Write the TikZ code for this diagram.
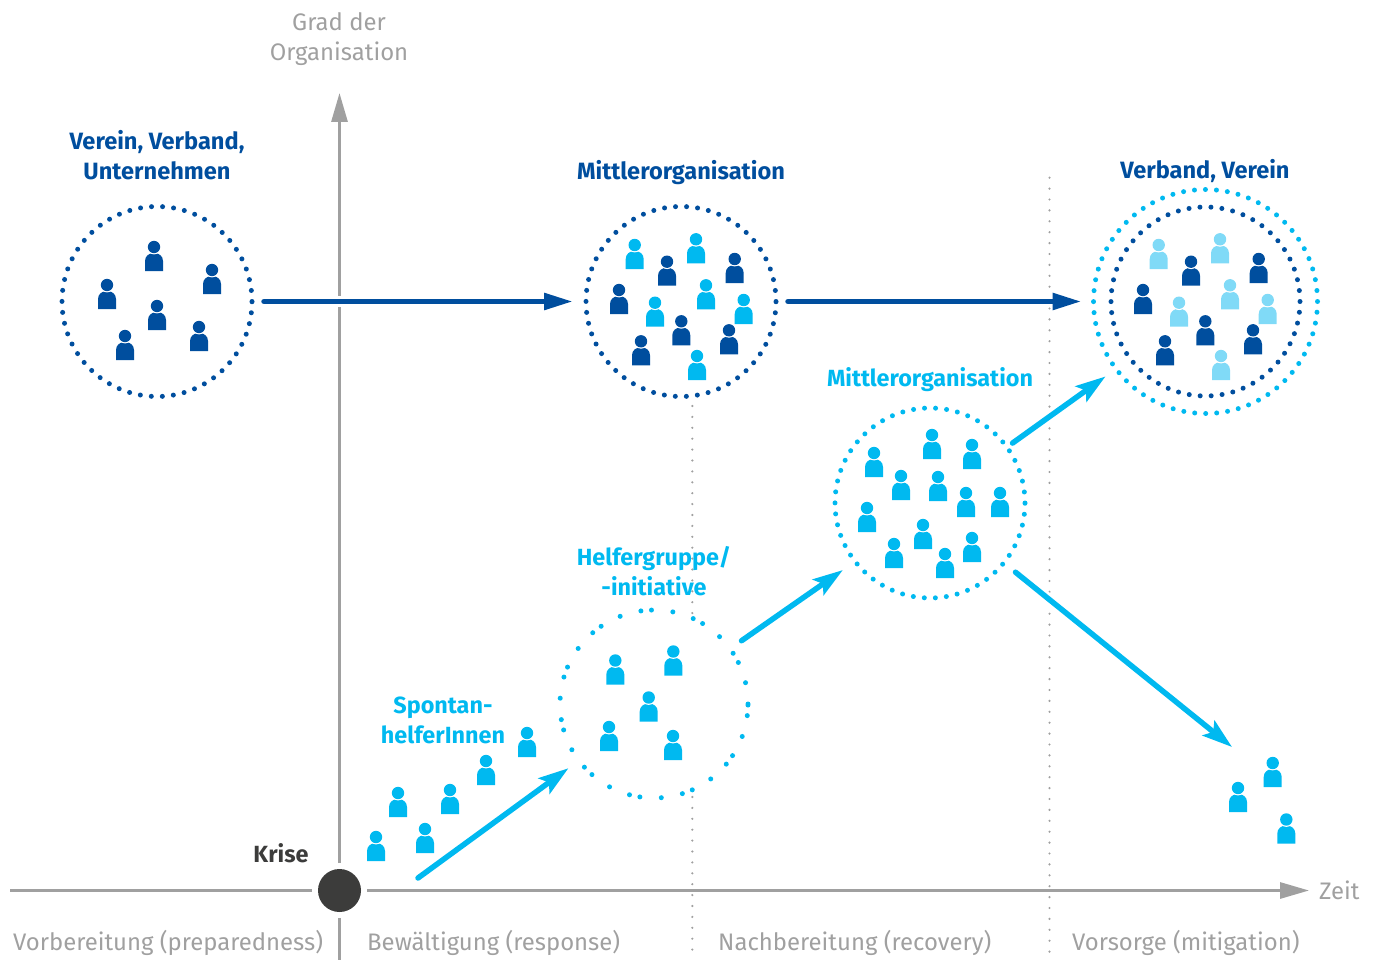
\documentclass[tikz,border=0pt]{standalone}
\usepackage{fontspec}
\setmainfont{Fira Sans}
\usepackage{xcolor}
\usetikzlibrary{arrows.meta}
\definecolor{darkblue}{RGB}{0,78,158}
\definecolor{skyblue}{RGB}{0,185,240}
\definecolor{paleblue}{RGB}{128,218,247}
\definecolor{axisgray}{RGB}{160,160,160}
\definecolor{krisegray}{RGB}{60,60,59}
\tikzset{
  person/.pic={
    \path[pic actions] (-9,0) -- (-9,-10) .. controls (-9,-15) and (-5,-18) .. (0,-18) .. controls (5,-18) and (9,-15) .. (9,-10) -- (9,0) -- cycle;
    \fill[white] (0,-24) circle (7.4pt);
    \path[pic actions] (0,-24) circle (6.2pt);
  },
  dark/.style={fill=darkblue},
  sky/.style={fill=skyblue},
  pale/.style={fill=paleblue},
  dotring/.style={circle, draw, inner sep=0pt, outer sep=0pt, line width=5pt, line cap=round},
  divider/.style={axisgray, line width=2.4pt, line cap=round, dash pattern=on 0pt off 10.9pt},
  axisline/.style={axisgray, line width=3pt},
  axistip/.style={-{Triangle[length=29pt,width=16pt]}},
  halo/.style={preaction={draw=white, line width=11pt, -, line cap=butt}},
  flow/.style={halo, line width=5.5pt, line cap=round},
  darkflow/.style={flow, darkblue, -{Triangle[length=29pt,width=16pt]}},
  skyflow/.style={flow, skyblue, -{Stealth[length=30pt,width=19pt,inset=6pt]}},
  darklabel/.style={darkblue, font=\fontsize{23.6}{30}\selectfont\bfseries, align=center},
  skylabel/.style={skyblue, font=\fontsize{23.4}{30}\selectfont\bfseries, align=center},
  graylabel/.style={axisgray, font=\fontsize{23.9}{30}\selectfont, align=center},
}
\begin{document}
\begin{tikzpicture}[x=1pt, y=-1pt]
  \useasboundingbox (0,0) rectangle (1376,960);

  \draw[divider] (692.3,406) -- (692.3,613.5);
  \draw[divider] (692.3,797) -- (692.3,960);
  \draw[divider] (1049.5,177.7) -- (1049.5,960);

  \node[circle, fill=krisegray, minimum size=43pt, inner sep=0pt, outer sep=6pt] (krise) at (339.5,890.5) {};
  \coordinate (axisleft) at (10,890.5);
  \coordinate (axistop) at (339.5,93);
  \coordinate (axisbottom) at (339.5,960);
  \node[graylabel, anchor=west, inner sep=10pt] (zeit) at (1309,890.5) {Zeit};
  \draw[axisline] (krise) -- (axisleft);
  \draw[axisline] (krise) -- (axisbottom);
  \draw[axisline, axistip] (krise) -- (axistop);
  \draw[axisline, axistip] (krise) -- (zeit.west);

  \node[dotring, darkblue, minimum size=190pt, dash pattern=on 0pt off 11.05pt] (verein) at (157,301.5) {};
  \node[dotring, darkblue, minimum size=190pt, dash pattern=on 0pt off 11.05pt] (mittlerA) at (681,301.5) {};
  \node[dotring, darkblue, minimum size=189pt, dash pattern=on 0pt off 11pt] (verbandA) at (1205.5,301.5) {};
  \node[dotring, skyblue, minimum size=224pt, dash pattern=on 0pt off 11pt] (verbandB) at (1205.5,301.5) {};
  \node[dotring, skyblue, minimum size=190pt, dash pattern=on 0pt off 11.05pt] (mittlerB) at (930,503) {};
  \node[dotring, skyblue, minimum size=188pt, dash pattern=on 0pt off 21.5pt on 0pt off 21.5pt on 0pt off 10.6pt] (helfer) at (654,704) {};

  \coordinate (krisestart) at (418,878);
  \coordinate (endtip) at (1232,747);
  \draw[darkflow, shorten <=12pt, shorten >=13pt] (verein) -- (mittlerA);
  \draw[darkflow, shorten <=12pt, shorten >=12pt] (mittlerA) -- (verbandB);
  \draw[skyflow, shorten >=13pt] (krisestart) -- (helfer.217);
  \draw[skyflow, shorten <=14pt, shorten >=15pt] (helfer.36) -- (mittlerB.218);
  \draw[skyflow, shorten <=7pt, shorten >=13pt] (mittlerB.36) -- (verbandB.217);
  \draw[skyflow, shorten <=15pt] (mittlerB.-39) -- (endtip);

  \pic[dark] at (154,271) {person};
  \pic[dark] at (107,309) {person};
  \pic[dark] at (212,294) {person};
  \pic[dark] at (157,330) {person};
  \pic[dark] at (125,360) {person};
  \pic[dark] at (199,351) {person};

  \pic[sky] at (634.7,269) {person};
  \pic[dark] at (667,285.7) {person};
  \pic[sky] at (696,263.3) {person};
  \pic[dark] at (734.7,283) {person};
  \pic[dark] at (619,314) {person};
  \pic[sky] at (655,326.7) {person};
  \pic[sky] at (706,309.3) {person};
  \pic[sky] at (743.7,324) {person};
  \pic[dark] at (681.3,345.3) {person};
  \pic[dark] at (729,354.3) {person};
  \pic[dark] at (641,365.3) {person};
  \pic[sky] at (697,380) {person};

  \pic[pale] at (1158.7,269) {person};
  \pic[dark] at (1191,285.7) {person};
  \pic[pale] at (1220,263.3) {person};
  \pic[dark] at (1258.7,283) {person};
  \pic[dark] at (1143,314) {person};
  \pic[pale] at (1179,326.7) {person};
  \pic[pale] at (1230,309.3) {person};
  \pic[pale] at (1267.7,324) {person};
  \pic[dark] at (1205.3,345.3) {person};
  \pic[dark] at (1253,354.3) {person};
  \pic[dark] at (1165,365.3) {person};
  \pic[pale] at (1221,380) {person};

  \pic[sky] at (874,477) {person};
  \pic[sky] at (932,459) {person};
  \pic[sky] at (972,469) {person};
  \pic[sky] at (901,500) {person};
  \pic[sky] at (938,501) {person};
  \pic[sky] at (966,517) {person};
  \pic[sky] at (1000,517) {person};
  \pic[sky] at (867,532) {person};
  \pic[sky] at (923,549) {person};
  \pic[sky] at (894,568) {person};
  \pic[sky] at (945,578) {person};
  \pic[sky] at (972,562) {person};

  \pic[sky] at (615.3,684.5) {person};
  \pic[sky] at (673.3,675.5) {person};
  \pic[sky] at (648.7,721.5) {person};
  \pic[sky] at (609,751) {person};
  \pic[sky] at (673,760) {person};

  \pic[sky] at (376,861) {person};
  \pic[sky] at (398,817) {person};
  \pic[sky] at (425,853) {person};
  \pic[sky] at (450,814) {person};
  \pic[sky] at (486,785) {person};
  \pic[sky] at (527,757) {person};

  \pic[sky] at (1238,812) {person};
  \pic[sky] at (1272.7,787) {person};
  \pic[sky] at (1286.3,843.5) {person};

  \node[graylabel] (gradlabel) at (339,39) {Grad der\\Organisation};
  \node[darklabel] (vereinlabel) at (157,155) {Verein, Verband,\\Unternehmen};
  \node[darklabel] (mittlerAlabel) at (681,173) {Mittlerorganisation};
  \node[darklabel] (verbandlabel) at (1205,171) {Verband, Verein};
  \node[skylabel] (mittlerBlabel) at (930,380) {Mittlerorganisation};
  \node[skylabel] (helferlabel) at (654,571) {Helfergruppe/\\-initiative};
  \node[skylabel] (spontanlabel) at (443,720) {Spontan-\\helferInnen};
  \node[krisegray, font=\fontsize{23.4}{30}\selectfont\bfseries] (krisetext) at (281,853) {Krise};
  \node[graylabel, anchor=west, inner sep=0pt] (phaseA) at (13,943) {Vorbereitung (preparedness)};
  \node[graylabel, anchor=west, inner sep=0pt] (phaseB) at (367,943) {Bewältigung (response)};
  \node[graylabel, anchor=west, inner sep=0pt] (phaseC) at (718,943) {Nachbereitung (recovery)};
  \node[graylabel, anchor=west, inner sep=0pt] (phaseD) at (1072,943) {Vorsorge (mitigation)};
\end{tikzpicture}
\end{document}
